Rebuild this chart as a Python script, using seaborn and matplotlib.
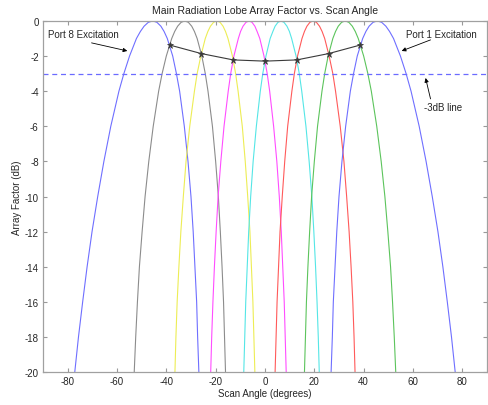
import numpy as np
import pandas as pd
import matplotlib
matplotlib.use("Agg")
import matplotlib.pyplot as plt
import seaborn as sns

# nivel (dB) comun a todos los lobulos, desde el pico hacia abajo
levels = [0, -0.08, -0.3, -0.6, -1, -2, -3, -4, -6, -8, -10, -12, -14, -16, -18, -20, -22]

# angulos (grados) a cada nivel: lado izquierdo y derecho de cada lobulo
port8_left = [-45.5, -47.3, -49.0, -50.5, -52.1, -54.9, -57.2, -59.2, -62.5, -65.3, -67.8, -70.1, -72.1, -73.9, -75.6, -77.1, -78.5]
port8_right = [-45.5, -43.8, -42.2, -40.9, -39.6, -37.4, -35.9, -34.6, -32.7, -31.2, -30.0, -29.1, -28.4, -27.7, -27.3, -26.8, -26.5]
port7_left = [-32.5, -34.0, -35.4, -36.6, -37.8, -40.0, -41.7, -43.1, -45.3, -47.1, -48.6, -49.8, -50.9, -51.7, -52.4, -53.0, -53.5]
port7_right = [-32.5, -31.05, -29.7, -28.6, -27.5, -25.6, -24.2, -23.1, -21.3, -20.0, -18.9, -18.1, -17.4, -16.8, -16.4, -16.0, -15.7]
port6_left = [-19.5, -20.85, -22.1, -23.15, -24.2, -26.0, -27.5, -28.6, -30.5, -32.0, -33.1, -34.1, -34.9, -35.6, -36.1, -36.5, -36.9]
port6_right = [-19.5, -18.2, -17.0, -16.0, -15.0, -13.2, -11.9, -10.9, -9.2, -8.0, -7.0, -6.1, -5.5, -4.9, -4.5, -4.1, -3.8]
port5_left = [-6.45, -7.7, -8.9, -9.9, -10.8, -12.6, -13.9, -14.9, -16.6, -17.9, -19.0, -19.8, -20.5, -21.1, -21.6, -22.0, -22.3]
port5_right = [-6.45, -5.25, -4.1, -3.2, -2.1, -0.4, 0.9, 1.9, 3.5, 4.8, 5.8, 6.6, 7.2, 7.8, 8.2, 8.6, 8.9]
port4_left = [6.45, 5.25, 4.1, 3.2, 2.1, 0.4, -0.9, -1.9, -3.5, -4.8, -5.8, -6.6, -7.2, -7.8, -8.2, -8.6, -8.9]
port4_right = [6.45, 7.7, 8.9, 9.9, 10.8, 12.6, 13.9, 14.9, 16.6, 17.9, 19.0, 19.8, 20.5, 21.1, 21.6, 22.0, 22.3]
port3_left = [19.5, 18.2, 17.0, 16.0, 15.0, 13.2, 11.9, 10.9, 9.2, 8.0, 7.0, 6.1, 5.5, 4.9, 4.5, 4.1, 3.8]
port3_right = [19.5, 20.85, 22.1, 23.15, 24.2, 26.0, 27.5, 28.6, 30.5, 32.0, 33.1, 34.1, 34.9, 35.6, 36.1, 36.5, 36.9]
port2_left = [32.5, 31.05, 29.7, 28.6, 27.5, 25.6, 24.2, 23.1, 21.3, 20.0, 18.9, 18.1, 17.4, 16.8, 16.4, 16.0, 15.7]
port2_right = [32.5, 34.0, 35.4, 36.6, 37.8, 40.0, 41.7, 43.1, 45.3, 47.1, 48.6, 49.8, 50.9, 51.7, 52.4, 53.0, 53.5]
port1_left = [45.5, 43.8, 42.2, 40.9, 39.6, 37.4, 35.9, 34.6, 32.7, 31.2, 30.0, 29.1, 28.4, 27.7, 27.3, 26.8, 26.5]
port1_right = [45.5, 47.3, 49.0, 50.5, 52.1, 54.9, 57.2, 59.2, 62.5, 65.3, 67.8, 70.1, 72.1, 73.9, 75.6, 77.1, 78.5]

# cruces entre lobulos adyacentes
cross_angle = [-38.7, -25.8, -12.9, 0.0, 12.9, 25.8, 38.7]
cross_db = [-1.37, -1.86, -2.22, -2.29, -2.22, -1.86, -1.37]

ports = ['Port 8', 'Port 7', 'Port 6', 'Port 5', 'Port 4', 'Port 3', 'Port 2', 'Port 1']
lefts = [port8_left, port7_left, port6_left, port5_left, port4_left, port3_left, port2_left, port1_left]
rights = [port8_right, port7_right, port6_right, port5_right, port4_right, port3_right, port2_right, port1_right]
colores = ['#6f6fff', '#8c8c8c', '#eded55', '#ff4dff', '#55e6e6', '#ff5a5a', '#5cc45c', '#6f6fff']

rows = []
for p, l, r in zip(ports, lefts, rights):
    xs = l[::-1] + r[1:]
    ys = levels[::-1] + levels[1:]
    for i, (x, y) in enumerate(zip(xs, ys)):
        rows.append({'port': p, 'orden': i, 'angulo': x, 'db': y})
df = pd.DataFrame(rows)

sns.set_style("ticks")
plt.rcParams['font.family'] = ['Liberation Sans', 'DejaVu Sans']
plt.rcParams['axes.unicode_minus'] = False
fig = plt.figure(figsize=(4.88, 4.06), dpi=100)
ax = fig.add_axes([0.088, 0.081, 0.91, 0.865])

sns.lineplot(data=df, x='angulo', y='db', hue='port', palette=colores, sort=False,
             estimator=None, linewidth=0.8, legend=False, ax=ax)

ax.axhline(-3, color='#6b6bff', linestyle=(0, (4, 3)), linewidth=0.9)
ax.plot(cross_angle, cross_db, color='#3a3a3a', linewidth=0.8, marker='*',
        markersize=4.5, markeredgewidth=0.5)

ax.set_xlim(-90, 90)
ax.set_ylim(-20, 0)
ax.set_xticks(range(-80, 81, 20))
ax.set_yticks(range(-20, 1, 2))
ax.tick_params(direction='in', length=3, labelsize=7, color='#999999', top=True, right=True,
               labeltop=False, labelright=False, pad=3)
for s in ax.spines.values():
    s.set_color('#a0a0a0')
    s.set_linewidth(0.9)
    s.set_visible(True)

ax.set_title('Main Radiation Lobe Array Factor vs. Scan Angle', fontsize=7.5, pad=6)
ax.set_xlabel('Scan Angle (degrees)', fontsize=7, labelpad=1)
ax.set_ylabel('Array Factor (dB)', fontsize=7, labelpad=2)

flecha = dict(arrowstyle='-|>', color='black', lw=0.6, mutation_scale=6, shrinkA=0, shrinkB=0)
ax.text(-88, -0.74, 'Port 8 Excitation', fontsize=7, ha='left', va='center')
ax.annotate('', xy=(-55.8, -1.71), xytext=(-70.3, -1.25), arrowprops=flecha)
ax.text(57, -0.74, 'Port 1 Excitation', fontsize=7, ha='left', va='center')
ax.annotate('', xy=(55.4, -1.71), xytext=(67.1, -1.08), arrowprops=flecha)
ax.text(64.6, -4.9, '-3dB line', fontsize=7, ha='left', va='center')
ax.annotate('', xy=(65.1, -3.25), xytext=(67.1, -4.44), arrowprops=flecha)

fig.savefig('out.png', dpi=100)
plt.close()
